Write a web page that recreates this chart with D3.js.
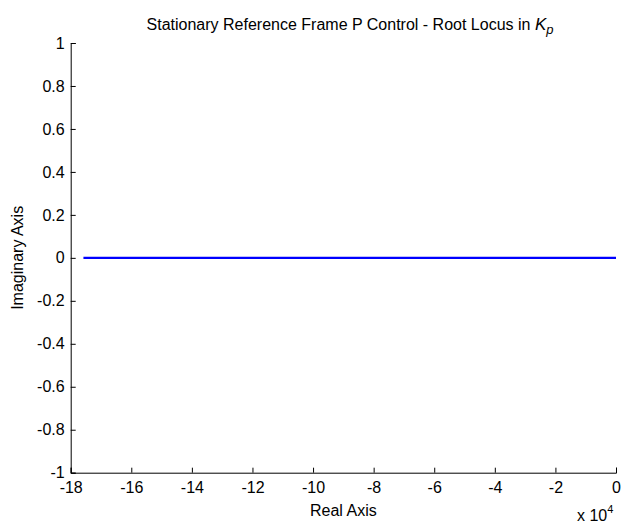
<!DOCTYPE html>
<html><head><meta charset="utf-8">
<script src="https://cdn.jsdelivr.net/npm/d3@7"></script>
<style>body{margin:0;background:#fff}svg{display:block}text{font-family:"Liberation Sans",Arial,sans-serif;}</style>
</head><body>
<script>
const title = "Stationary Reference Frame P Control - Root Locus in ";
const xLabel = "Real Axis";
const yLabel = "Imaginary Axis";
const xTicks = [-18,-16,-14,-12,-10,-8,-6,-4,-2,0];
const yTicks = [-1,-0.8,-0.6,-0.4,-0.2,0,0.2,0.4,0.6,0.8,1];
// root locus branch (real part in units of 1e4, imaginary part)
const locusReal = [-17.58, -12, -8, -4, 0];
const locusImag = [0, 0, 0, 0, 0];

const W = 621, H = 525;
const m = {left: 70.7, right: 616, top: 43, bottom: 472.7};
const FS = 16;
const svg = d3.select("body").append("svg").attr("width", W).attr("height", H);
const x = d3.scaleLinear().domain([-18, 0]).range([m.left, m.right]);
const y = d3.scaleLinear().domain([-1, 1]).range([m.bottom, m.top]);

const xa = svg.append("g").attr("transform", `translate(0,${m.bottom})`)
  .call(d3.axisBottom(x).tickValues(xTicks).tickSize(-5).tickPadding(9).tickFormat(d => d));
const ya = svg.append("g").attr("transform", `translate(${m.left},0)`)
  .call(d3.axisLeft(y).tickValues(yTicks).tickSize(-5).tickPadding(6).tickFormat(d => d));
[xa, ya].forEach(g => {
  g.select(".domain").attr("stroke", "#000").attr("stroke-width", 1);
  g.selectAll(".tick line").attr("stroke", "#000");
  g.selectAll(".tick text").attr("font-size", FS).attr("fill", "#000")
   .attr("font-family", "Liberation Sans, Arial, sans-serif");
});

const pts = locusReal.map((r, i) => [r, locusImag[i]]);
svg.append("path").datum(pts)
  .attr("fill", "none").attr("stroke", "#0000ff").attr("stroke-width", 2.3)
  .attr("d", d3.line().x(d => x(d[0])).y(d => y(d[1])));

const t = svg.append("text").attr("x", 350).attr("y", 30)
  .attr("text-anchor", "middle").attr("font-size", FS).attr("fill", "#000");
t.append("tspan").text(title);
t.append("tspan").attr("font-style", "italic").attr("font-size", 17).text("K");
t.append("tspan").attr("font-style", "italic").attr("font-size", 13).attr("dy", 4).text("p");

svg.append("text").attr("x", (m.left + m.right) / 2).attr("y", 516)
  .attr("text-anchor", "middle").attr("font-size", FS).attr("fill", "#000").text(xLabel);
svg.append("text").attr("transform", `translate(23,${(m.top + m.bottom) / 2}) rotate(-90)`)
  .attr("text-anchor", "middle").attr("font-size", FS).attr("fill", "#000").text(yLabel);

const e = svg.append("text").attr("x", 577).attr("y", 521).attr("font-size", FS).attr("fill", "#000");
e.append("tspan").text("x 10");
e.append("tspan").attr("font-size", 11).attr("dy", -8).text("4");
</script>
</body></html>
